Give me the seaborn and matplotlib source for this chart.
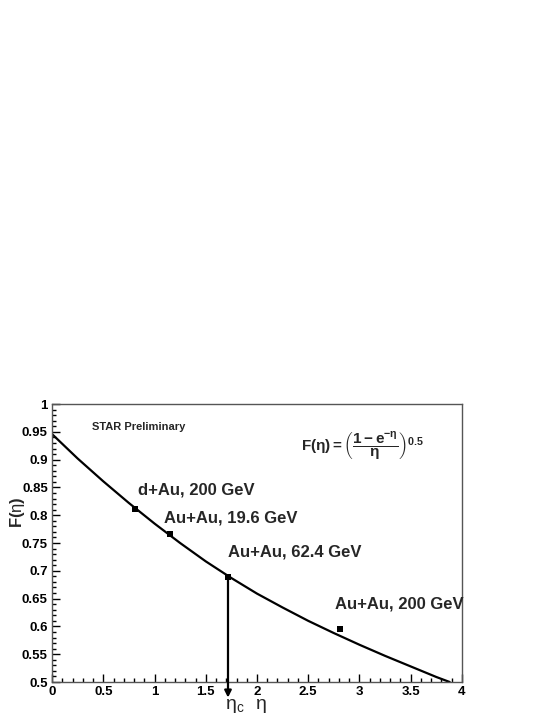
import matplotlib
matplotlib.use('Agg')
import matplotlib.pyplot as plt
import matplotlib.ticker as mticker
import pandas as pd
import seaborn as sns

# curve
curve_eta = [0.0, 0.25, 0.5, 0.75, 1.0, 1.25, 1.5, 1.75, 2.0, 2.25, 2.5, 2.75, 3.0, 3.25, 3.5, 3.75, 3.88]
curve_f = [0.946, 0.902, 0.861, 0.822, 0.785, 0.750, 0.717, 0.687, 0.659, 0.634, 0.610, 0.588, 0.567,
           0.547, 0.528, 0.509, 0.500]

# measured points
systems = ['d+Au, 200 GeV', 'Au+Au, 19.6 GeV', 'Au+Au, 62.4 GeV', 'Au+Au, 200 GeV']
point_eta = [0.813, 1.148, 1.717, 2.805]
point_f = [0.812, 0.767, 0.688, 0.595]
label_offsets = [(3, 19), (-6, 16), (0, 25), (-5, 25)]  # pixels

eta_c = 1.717

curve = pd.DataFrame({'eta': curve_eta, 'F': curve_f})
points = pd.DataFrame({'eta': point_eta, 'F': point_f, 'system': systems})

sns.set_style('ticks')
plt.rcParams['font.family'] = ['Liberation Sans', 'DejaVu Sans']
plt.rcParams['mathtext.fontset'] = 'custom'
plt.rcParams['mathtext.rm'] = 'Liberation Sans'
plt.rcParams['mathtext.it'] = 'Liberation Sans'
plt.rcParams['mathtext.bf'] = 'Liberation Sans:bold'

fig = plt.figure(figsize=(5.54, 7.17), dpi=100)
ax = fig.add_axes([0.0939, 0.0488, 0.740, 0.3877])

sns.lineplot(data=curve, x='eta', y='F', ax=ax, color='black', linewidth=1.6)
sns.scatterplot(data=points, x='eta', y='F', ax=ax, color='black', marker='s', s=22,
                edgecolor='black', linewidth=0, zorder=5)

for name, x, y, off in zip(systems, point_eta, point_f, label_offsets):
    ax.annotate(name, xy=(x, y), xytext=off, textcoords='offset pixels',
                fontsize=12, fontweight='bold', ha='left', va='center')

# arrow marking eta_c
ax.annotate('', xy=(eta_c, 0.472), xytext=(eta_c, point_f[2]),
            arrowprops=dict(arrowstyle='-|>', color='black', lw=1.6, mutation_scale=10,
                            shrinkA=0, shrinkB=0),
            annotation_clip=False)
ax.text(1.78, 0.456, r'$\mathrm{\eta_c}$', fontsize=14, ha='center', va='center', clip_on=False)
ax.text(2.04, 0.456, r'$\mathrm{\eta}$', fontsize=14, ha='center', va='center', clip_on=False)

ax.text(0.39, 0.958, 'STAR Preliminary', fontsize=8, fontweight='bold', va='center', ha='left')
ax.text(3.03, 0.924, r'$\mathbf{F(\eta) = \left(\dfrac{1 - e^{-\eta}}{\eta}\right)^{0.5}}$',
        fontsize=11, ha='center', va='center')

ax.set_xlim(0, 4)
ax.set_ylim(0.5, 1.0)
ax.set_xlabel('')
ax.set_ylabel(r'F($\mathrm{\eta}$)', fontsize=12, fontweight='bold')
ax.yaxis.set_label_coords(-0.062, 0.61)

ax.xaxis.set_major_locator(mticker.MultipleLocator(0.5))
ax.xaxis.set_minor_locator(mticker.MultipleLocator(0.1))
ax.yaxis.set_major_locator(mticker.MultipleLocator(0.05))
ax.yaxis.set_minor_locator(mticker.MultipleLocator(0.01))
fmt = mticker.FuncFormatter(lambda v, p: f'{v:g}')
ax.xaxis.set_major_formatter(fmt)
ax.yaxis.set_major_formatter(fmt)

ax.tick_params(which='both', direction='in', top=False, right=False, colors='black')
ax.tick_params(which='major', length=6, width=1, pad=3, labelsize=9.5)
ax.tick_params(which='minor', length=3, width=1)
for lab in ax.get_xticklabels() + ax.get_yticklabels():
    lab.set_fontweight('bold')

for side in ['top', 'right', 'left', 'bottom']:
    ax.spines[side].set_visible(True)
    ax.spines[side].set_color('#555555')
    ax.spines[side].set_linewidth(1)

fig.savefig('out.png', dpi=100)
plt.close(fig)
